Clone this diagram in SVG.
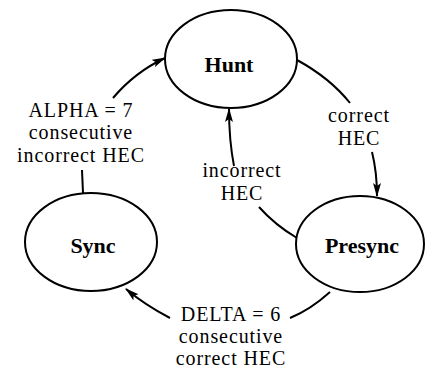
<svg xmlns="http://www.w3.org/2000/svg" width="425" height="370" viewBox="0 0 425 370">
<style>
.node{fill:#fff;stroke:#000;stroke-width:2}
.nl{font-family:'Liberation Serif','Times New Roman','DejaVu Serif',serif;font-weight:bold;font-size:22px;text-anchor:middle;fill:#000}
.el{font-family:'Liberation Serif','Times New Roman','DejaVu Serif',serif;font-size:20px;letter-spacing:0.9px;text-anchor:middle;fill:#000}
.c{fill:none;stroke:#000;stroke-width:2}
</style>
<defs>
<marker id="ah" viewBox="0 0 14 8" refX="13" refY="4" markerWidth="14" markerHeight="8" markerUnits="userSpaceOnUse" orient="auto">
<path d="M0,0 L14,4 L0,8 L3,4 Z" fill="#000"/>
</marker>
</defs>
<rect width="425" height="370" fill="#fff"/>
<g id="connectors">
<path class="c" d="M83,193 L82,170"/>
<path class="c" d="M113,98 Q135,72 165,58" marker-end="url(#ah)"/>
<path class="c" d="M297,60 Q330,78 350,103"/>
<path class="c" d="M372,152 Q377,172 377,196" marker-end="url(#ah)"/>
<path class="c" d="M297,238 Q275,225 259,207"/>
<path class="c" d="M234,166 Q229,140 229,109" marker-end="url(#ah)"/>
<path class="c" d="M330,292 Q310,310 290,318"/>
<path class="c" d="M170,318 Q145,305 126,289" marker-end="url(#ah)"/>
</g>
<g id="hunt">
<ellipse class="node" cx="231" cy="59" rx="66" ry="49"/>
<text class="nl" x="229" y="72">Hunt</text>
</g>
<g id="sync">
<ellipse class="node" cx="91" cy="242" rx="66" ry="49"/>
<text class="nl" x="93" y="253">Sync</text>
</g>
<g id="presync">
<ellipse class="node" cx="360" cy="244" rx="64" ry="48"/>
<text class="nl" x="362" y="253">Presync</text>
</g>
<g id="labels">
<text class="el" x="81" y="117">ALPHA = 7</text>
<text class="el" x="81" y="139">consecutive</text>
<text class="el" x="81" y="162">incorrect HEC</text>
<text class="el" x="359" y="122">correct</text>
<text class="el" x="359" y="145">HEC</text>
<text class="el" x="242" y="177">incorrect</text>
<text class="el" x="242" y="200">HEC</text>
<text class="el" x="231" y="321">DELTA = 6</text>
<text class="el" x="231" y="343">consecutive</text>
<text class="el" x="231" y="365">correct HEC</text>
</g>
</svg>
